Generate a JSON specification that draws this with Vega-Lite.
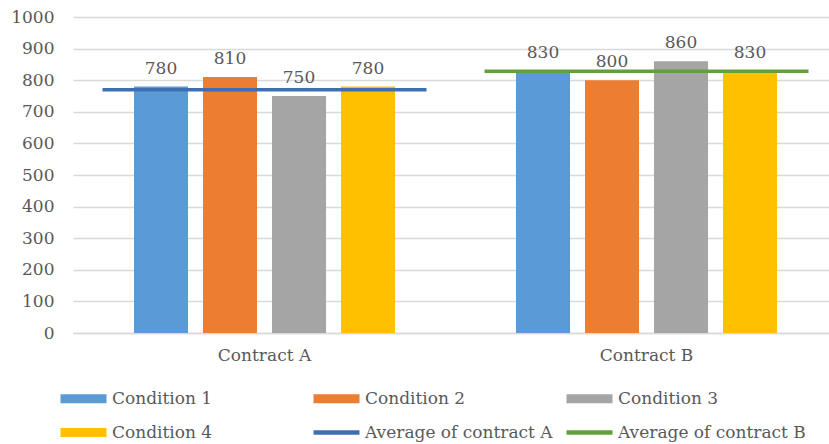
{
  "$schema": "https://vega.github.io/schema/vega-lite/v6.json",
  "autosize": "none",
  "width": 756,
  "height": 316,
  "padding": {"left": 73, "top": 17, "right": 0, "bottom": 111},
  "background": "white",
  "config": {
    "font": "DejaVu Serif",
    "view": {"stroke": null},
    "axis": {
      "labelFont": "DejaVu Serif",
      "labelFontSize": 17,
      "labelColor": "#595959",
      "ticks": false,
      "title": null
    }
  },
  "data": {
    "values": [
      {"contract": "Contract A", "series": "Condition 1", "value": 780},
      {"contract": "Contract A", "series": "Condition 2", "value": 810},
      {"contract": "Contract A", "series": "Condition 3", "value": 750},
      {"contract": "Contract A", "series": "Condition 4", "value": 780},
      {"contract": "Contract B", "series": "Condition 1", "value": 830},
      {"contract": "Contract B", "series": "Condition 2", "value": 800},
      {"contract": "Contract B", "series": "Condition 3", "value": 860},
      {"contract": "Contract B", "series": "Condition 4", "value": 830},
      {"contract": "Contract A", "series": "Average of contract A", "value": 770},
      {"contract": "Contract B", "series": "Average of contract B", "value": 828}
    ]
  },
  "encoding": {
    "x": {
      "field": "contract",
      "type": "nominal",
      "sort": ["Contract A", "Contract B"],
      "scale": {"paddingInner": 0.2, "paddingOuter": 0.0895, "align": 0.566},
      "axis": {"labelAngle": 0, "domain": true, "domainColor": "#d9d9d9", "domainWidth": 1.5, "labelPadding": 14, "grid": false}
    },
    "y": {
      "field": "value",
      "type": "quantitative",
      "scale": {"domain": [0, 1000], "nice": false},
      "axis": {"values": [0, 100, 200, 300, 400, 500, 600, 700, 800, 900, 1000], "format": "d", "domain": false, "grid": true, "gridColor": "#d9d9d9", "gridWidth": 1.5, "labelPadding": 19}
    },
    "color": {
      "field": "series",
      "type": "nominal",
      "scale": {
        "domain": ["Condition 1", "Condition 2", "Condition 3", "Condition 4", "Average of contract A", "Average of contract B"],
        "range": ["#5B9BD5", "#ED7D31", "#A5A5A5", "#FFC000", "#3F6FB3", "#62A03E"]
      },
      "legend": {
        "title": null,
        "orient": "none",
        "legendX": -13,
        "legendY": 373,
        "direction": "horizontal",
        "columns": 3,
        "gridAlign": "all",
        "columnPadding": 13,
        "rowPadding": 16,
        "padding": 0,
        "symbolSize": 256,
        "symbolStrokeWidth": 0,
        "labelOffset": 35,
        "labelFont": "DejaVu Serif",
        "labelFontSize": 17,
        "labelColor": "#595959",
        "labelLimit": 400,
        "encode": {
          "symbols": {
            "update": {
              "shape": {"signal": "indexof(datum.value, 'Average') === 0 ? 'M-1,-0.28H4.75V0.28H-1Z' : 'M-1,-0.56H4.75V0.56H-1Z'"},
              "fill": {"scale": "color", "field": "value"},
              "stroke": {"value": "transparent"},
              "strokeWidth": {"value": 0},
              "opacity": {"value": 1}
            }
          }
        }
      }
    }
  },
  "layer": [
    {
      "transform": [{"filter": "indexof(datum.series, 'Condition') === 0"}],
      "mark": {"type": "bar"},
      "encoding": {
        "xOffset": {
          "field": "series",
          "type": "nominal",
          "sort": ["Condition 1", "Condition 2", "Condition 3", "Condition 4"],
          "scale": {"paddingInner": 0.217, "paddingOuter": 0.323}
        }
      }
    },
    {
      "transform": [{"filter": "indexof(datum.series, 'Condition') === 0"}],
      "mark": {"type": "text", "baseline": "alphabetic", "dy": -13, "font": "DejaVu Serif", "fontSize": 17, "color": "#595959"},
      "encoding": {
        "xOffset": {
          "field": "series",
          "type": "nominal",
          "sort": ["Condition 1", "Condition 2", "Condition 3", "Condition 4"]
        },
        "text": {"field": "value", "type": "quantitative"},
        "color": {"value": "#595959"}
      }
    },
    {
      "transform": [{"filter": "indexof(datum.series, 'Average') === 0"}],
      "mark": {"type": "tick", "size": 324, "thickness": 3.5, "opacity": 1},
      "encoding": {}
    }
  ]
}
